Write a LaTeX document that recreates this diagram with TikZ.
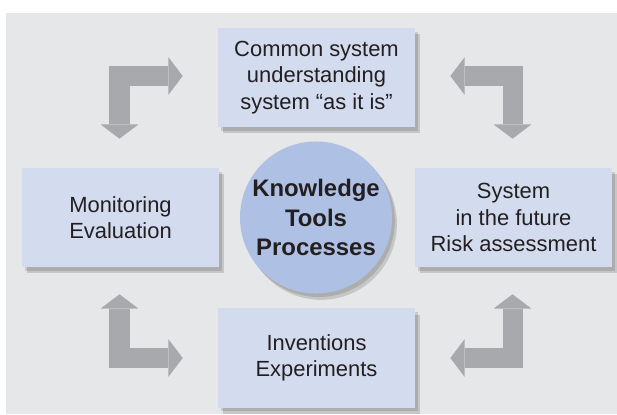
\documentclass[tikz,border=0pt]{standalone}
\usepackage{fontspec}
\setmainfont{Liberation Sans}
\usetikzlibrary{calc,shadows,arrows.meta}
\definecolor{bggray}{HTML}{E6E7E8}
\definecolor{boxblue}{HTML}{D3DCEF}
\definecolor{ballblue}{HTML}{AEC1E4}
\definecolor{arrowgray}{HTML}{A7A9AC}
\definecolor{inkblack}{HTML}{231F20}

\begin{document}
\begin{tikzpicture}[x=0.025cm,y=-0.025cm,
    softshade/.style={
      drop shadow={shadow xshift=2pt, shadow yshift=-2.5pt, fill=black, opacity=0.12},
      drop shadow={shadow xshift=3.5pt, shadow yshift=-4.5pt, fill=black, opacity=0.14}},
    stagebox/.style={fill=boxblue, minimum width=4.925cm, minimum height=2.475cm,
      align=center, text=inkblack, font=\fontsize{15.6}{18.8}\selectfont, softshade},
    hub/.style={circle, fill=ballblue, minimum size=3.8cm, inner sep=0pt,
      align=center, text=inkblack, font=\fontsize{17}{20.9}\selectfont\bfseries, softshade},
    elbow/.style={draw=arrowgray, line width=0.5cm, line join=miter,
      {Triangle[width=0.95cm,length=0.36cm,line width=0pt]}-{Triangle[width=0.95cm,length=0.36cm,line width=0pt]}}]

      \useasboundingbox (0,0) rectangle (617,414);
      \fill[bggray] (6,13) rectangle (617,414);

      \node[stagebox] (com) at (316.5,77.5) {Common system\\understanding\\system ``as it is''};
      \node[stagebox] (mon) at (120.5,217.5) {Monitoring\\Evaluation};
      \node[stagebox] (fut) at (513.5,217.5) {System\\in the future\\Risk assessment};
      \node[stagebox] (inv) at (316.5,358) {Inventions\\Experiments};
      \node[hub] (ktp) at (316,217.5) {Knowledge\\Tools\\Processes};

      \draw[elbow] ($(mon.north)+(-1,-29)$) |- ($(com.west)+(-35,-1.5)$);
      \draw[elbow] ($(com.east)+(35,-1.5)$) -| ($(fut.north)+(-1,-29)$);
      \draw[elbow] ($(mon.south)+(-1,27)$) |- ($(inv.west)+(-35,0)$);
      \draw[elbow] ($(fut.south)+(-1,27)$) |- ($(inv.east)+(35,0)$);

\end{tikzpicture}
\end{document}
